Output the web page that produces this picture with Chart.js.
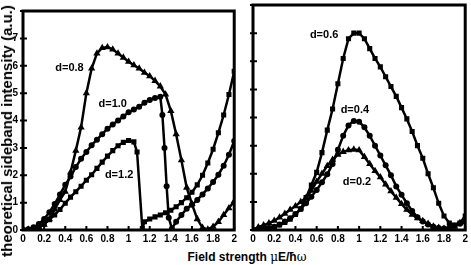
<!DOCTYPE html>
<html>
<head>
<meta charset="utf-8">
<script src="https://cdn.jsdelivr.net/npm/chart.js@4.4.0/dist/chart.umd.min.js"></script>
<style>
  body { margin: 0; background: #fff; width: 471px; height: 265px; overflow: hidden; position: relative; font-family: "Liberation Sans", Arial, sans-serif; }
  canvas { position: absolute; top: 0; }
  #left { left: 0; }
  #right { left: 240px; }
  .ytitle { position: absolute; left: 7px; top: 131px; transform-origin: 0 0; transform: rotate(-90deg) translate(-50%, -50%); white-space: nowrap; font-weight: bold; font-size: 15px; line-height: 16px; }
  .xtitle { position: absolute; left: 247px; top: 257px; transform: translate(-50%, -50%); white-space: nowrap; font-weight: bold; font-size: 12px; line-height: 14px; }
  .sym { font-family: "DejaVu Serif", serif; font-weight: normal; }
</style>
</head>
<body>
<canvas id="left" width="240" height="245"></canvas>
<canvas id="right" width="231" height="245"></canvas>
<div class="ytitle">theoretical sideband intensity (a.u.)</div>
<div class="xtitle">Field strength <span class="sym">μ</span>E/ħ<span class="sym">ω</span></div>
<script>
// ---- DATA ----
const xs = [0,0.05,0.1,0.15,0.2,0.25,0.3,0.35,0.4,0.45,0.5,0.55,0.6,0.65,0.7,0.75,0.8,0.85,0.9,0.95,
            1.0,1.05,1.1,1.15,1.2,1.25,1.3,1.35,1.4,1.45,1.5,1.55,1.6,1.65,1.7,1.75,1.8,1.85,1.9,1.95,2.0];

// left panel
const d08Y = [0,0.02,0.04,0.1,0.2,0.4,0.75,1.1,1.4,2.1,2.9,3.75,5.0,5.9,6.45,6.65,6.68,6.6,6.45,6.3,
              6.15,6.02,5.9,5.75,5.62,5.45,5.25,4.95,4.35,3.5,2.55,1.55,0.95,0.4,0.08,0.02,0.12,0.3,0.55,0.8,1.05];

const d10X = [0,0.05,0.1,0.15,0.2,0.25,0.3,0.35,0.4,0.45,0.5,0.55,0.6,0.65,0.7,0.75,0.8,0.85,0.9,0.95,
              1.0,1.05,1.1,1.15,1.2,1.25,1.3,1.32,1.34,1.36,1.38,1.41,1.45,1.5,1.55,1.6,1.65,1.7,1.75,1.8,1.85,1.9,1.95,2.0];
const d10Y = [0,0.03,0.1,0.22,0.4,0.65,0.95,1.3,1.65,1.95,2.3,2.6,2.85,3.1,3.3,3.5,3.7,3.85,4.0,4.15,
              4.3,4.4,4.5,4.65,4.75,4.82,4.87,4.2,3.0,1.6,0.45,0.05,0.3,0.55,0.78,0.92,1.1,1.3,1.52,1.75,2.02,2.35,2.75,3.25];

const d12X = [0,0.05,0.1,0.15,0.2,0.25,0.3,0.35,0.4,0.45,0.5,0.55,0.6,0.65,0.7,0.75,0.8,0.85,0.9,0.95,
              1.0,1.05,1.08,1.13,1.15,1.2,1.25,1.3,1.35,1.4,1.45,1.5,1.55,1.6,1.65,1.7,1.75,1.8,1.85,1.9,1.95,2.0];
const d12Y = [0,0,0.02,0.1,0.22,0.38,0.55,0.75,0.98,1.2,1.4,1.6,1.82,2.02,2.25,2.48,2.7,2.9,3.08,3.2,
              3.27,3.22,2.85,0.05,0.3,0.4,0.48,0.55,0.63,0.72,0.85,1.0,1.18,1.38,1.65,2.0,2.45,2.95,3.55,4.2,4.95,5.8];

// right panel
const d06Y = [0,0.01,0.03,0.06,0.1,0.18,0.27,0.38,0.55,0.75,1.15,1.6,2.05,2.75,3.55,4.3,5.2,6.1,6.8,7.0,
              7.0,6.8,6.45,6.1,5.8,5.45,5.1,4.75,4.35,3.95,3.5,3.0,2.55,2.0,1.5,0.95,0.5,0.25,0.18,0.25,0.5];
const d04Y = [0,0.01,0.03,0.07,0.12,0.2,0.3,0.42,0.57,0.75,0.95,1.18,1.42,1.7,1.98,2.35,2.85,3.35,3.72,3.88,
              3.85,3.65,3.35,3.0,2.65,2.3,1.95,1.55,1.25,0.95,0.68,0.45,0.3,0.2,0.12,0.07,0.05,0.08,0.15,0.22,0.3];
const d02Y = [0,0.1,0.17,0.24,0.33,0.45,0.58,0.72,0.85,1.0,1.15,1.4,1.72,2.0,2.28,2.5,2.68,2.78,2.84,2.86,
              2.84,2.6,2.35,2.1,1.88,1.62,1.38,1.15,0.93,0.72,0.55,0.42,0.32,0.22,0.13,0.08,0.05,0.07,0.12,0.25,0.4];

const xTickVals = [0,0.2,0.4,0.6,0.8,1,1.2,1.4,1.6,1.8,2];
const xTickLabels = ['0','0.2','0.4','0.6','0.8','1','1.2','1.4','1.6','1.8','2'];
const yTickVals = [0,1,2,3,4,5,6,7,8];
const yTickLabels = ['0','1','2','3','4','5','6','7',''];

// curve labels: [text, x, y] in data units
const leftNotes = [['d=0.8', 0.44, 5.93], ['d=1.0', 0.85, 4.62], ['d=1.2', 0.91, 2.02]];
const rightNotes = [['d=0.6', 0.67, 6.93], ['d=0.4', 0.96, 4.26], ['d=0.2', 0.98, 1.7]];

// ---- HELPERS ----
const FONT = '"Liberation Sans", Arial, sans-serif';
const pts = (x, y) => x.map((v, i) => ({ x: v, y: y[i] }));

function series(data, style, r) {
    return {
        data: data,
        borderColor: '#000',
        backgroundColor: '#000',
        borderWidth: 2.5,
        pointStyle: style,
        pointRadius: r,
        pointBorderWidth: 0,
        pointHoverRadius: r,
        tension: 0
    };
}

// frame, inward ticks and curve labels
const framePlugin = {
    id: 'frame',
    afterDraw(chart, args, opts) {
        const { ctx, chartArea: a, scales } = chart;
        ctx.save();
        ctx.strokeStyle = '#000';
        ctx.lineWidth = 3;
        ctx.strokeRect(a.left, a.top, a.width, a.height);
        ctx.lineWidth = 2;
        ctx.beginPath();
        xTickVals.forEach(v => {
            const px = scales.x.getPixelForValue(v);
            ctx.moveTo(px, a.bottom);
            ctx.lineTo(px, a.bottom - 4);
        });
        yTickVals.forEach(v => {
            const py = scales.y.getPixelForValue(v);
            ctx.moveTo(a.left - 3, py);
            ctx.lineTo(a.left + 4, py);
        });
        ctx.stroke();
        ctx.fillStyle = '#000';
        ctx.font = 'bold 11px ' + FONT;
        ctx.textAlign = 'center';
        ctx.textBaseline = 'middle';
        opts.notes.forEach(n => {
            ctx.fillText(n[0], scales.x.getPixelForValue(n[1]), scales.y.getPixelForValue(n[2]));
        });
        ctx.restore();
    }
};

function makeChart(id, datasets, notes, yWidth, showY) {
    return new Chart(document.getElementById(id), {
        type: 'line',
        data: { datasets: datasets },
        options: {
            responsive: false,
            animation: false,
            events: [],
            layout: { padding: { top: 5, right: 3, left: 0, bottom: 0 } },
            plugins: { legend: { display: false }, tooltip: { enabled: false }, frame: { notes: notes } },
            scales: {
                x: {
                    type: 'linear', min: 0, max: 2,
                    afterBuildTicks: s => { s.ticks = xTickVals.map(v => ({ value: v })); },
                    ticks: {
                        autoSkip: false, maxRotation: 0, padding: 3, color: '#000',
                        font: { family: FONT, size: 10, weight: 'bold' },
                        callback: (v, i) => xTickLabels[i]
                    },
                    grid: { display: false, drawTicks: false, tickLength: 0 },
                    border: { display: false },
                    afterFit: s => { s.height = 15; }
                },
                y: {
                    min: 0, max: 8,
                    afterBuildTicks: s => { s.ticks = yTickVals.map(v => ({ value: v })); },
                    ticks: {
                        display: showY, padding: 5, color: '#000',
                        font: { family: FONT, size: 10, weight: 'bold' },
                        callback: (v, i) => yTickLabels[i]
                    },
                    grid: { display: false, drawTicks: false, tickLength: 0 },
                    border: { display: false },
                    afterFit: s => { s.width = yWidth; }
                }
            }
        },
        plugins: [framePlugin]
    });
}

makeChart('left', [
    series(pts(xs, d08Y), 'triangle', 4.2),
    series(pts(d10X, d10Y), 'circle', 3),
    series(pts(d12X, d12Y), 'rect', 3.6)
], leftNotes, 23, true);

makeChart('right', [
    series(pts(xs, d06Y), 'rect', 3.6),
    series(pts(xs, d04Y), 'circle', 3),
    series(pts(xs, d02Y), 'triangle', 4.2)
], rightNotes, 13, false);
</script>
</body>
</html>
